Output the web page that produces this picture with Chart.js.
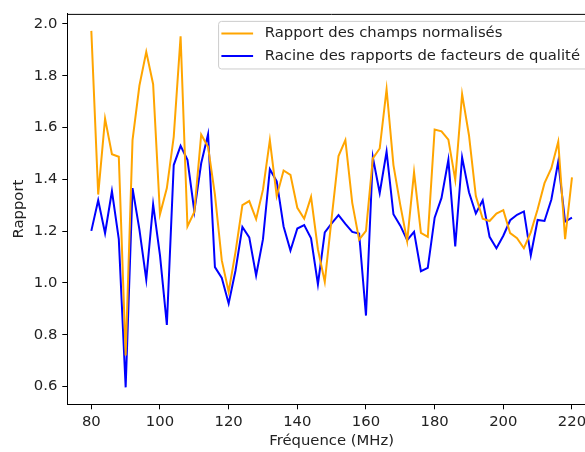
<!DOCTYPE html>
<html>
<head>
<meta charset="utf-8">
<script src="https://cdn.jsdelivr.net/npm/chart.js@4/dist/chart.umd.min.js"></script>
<style>
  html, body { margin: 0; padding: 0; background: #fff; overflow: hidden; }
  #wrap { width: 585px; height: 452px; overflow: hidden; }
</style>
</head>
<body>
<div id="wrap"><canvas id="chart" width="600" height="452"></canvas></div>
<script>
// Frequencies (MHz)
const freqs = [80, 82, 84, 86, 88, 90, 92, 94, 96, 98,
    100, 102, 104, 106, 108, 110, 112, 114, 116, 118,
    120, 122, 124, 126, 128, 130, 132, 134, 136, 138,
    140, 142, 144, 146, 148, 150, 152, 154, 156, 158,
    160, 162, 164, 166, 168, 170, 172, 174, 176, 178,
    180, 182, 184, 186, 188, 190, 192, 194, 196, 198,
    200, 202, 204, 206, 208, 210, 212, 214, 216, 218, 220];

// Rapport des champs normalisés
const champs = [1.973, 1.341, 1.634, 1.497, 1.487, 0.720, 1.551, 1.761, 1.892, 1.767,
    1.265, 1.366, 1.564, 1.952, 1.218, 1.274, 1.573, 1.525, 1.341, 1.087,
    0.966, 1.120, 1.300, 1.316, 1.246, 1.360, 1.551, 1.335, 1.434, 1.417,
    1.290, 1.248, 1.332, 1.130, 1.004, 1.250, 1.490, 1.551, 1.309, 1.167,
    1.201, 1.481, 1.519, 1.748, 1.455, 1.300, 1.162, 1.427, 1.193, 1.178,
    1.592, 1.585, 1.553, 1.398, 1.729, 1.570, 1.335, 1.248, 1.239, 1.268,
    1.281, 1.192, 1.173, 1.134, 1.195, 1.284, 1.385, 1.443, 1.545, 1.169, 1.407];

// Racine des rapports de facteurs de qualité
const facteurs = [1.201, 1.319, 1.192, 1.354, 1.169, 0.597, 1.366, 1.207, 1.013, 1.303,
    1.106, 0.838, 1.455, 1.529, 1.475, 1.277, 1.462, 1.574, 1.061, 1.019,
    0.921, 1.048, 1.216, 1.176, 1.029, 1.169, 1.439, 1.392, 1.218, 1.125,
    1.210, 1.223, 1.172, 0.995, 1.195, 1.230, 1.262, 1.228, 1.197, 1.191,
    0.874, 1.485, 1.347, 1.507, 1.265, 1.221, 1.165, 1.197, 1.045, 1.058,
    1.252, 1.328, 1.475, 1.141, 1.485, 1.350, 1.268, 1.319, 1.178, 1.134,
    1.182, 1.242, 1.263, 1.276, 1.106, 1.243, 1.239, 1.322, 1.468, 1.237, 1.252];

const xTicks = [80, 100, 120, 140, 160, 180, 200, 220];
const yTicks = [0.6, 0.8, 1.0, 1.2, 1.4, 1.6, 1.8, 2.0];

const font = { family: 'DejaVu Sans', size: 14.8 };
const textColor = '#222';

// matplotlib-like legend box in the upper right + top spine
const mplFrame = {
    id: 'mplFrame',
    afterDraw(chart) {
        const ctx = chart.ctx;
        const a = chart.chartArea;
        ctx.save();
        ctx.strokeStyle = '#000';
        ctx.lineWidth = 1;
        ctx.beginPath();
        ctx.moveTo(a.left, a.top + 0.5);
        ctx.lineTo(a.right, a.top + 0.5);
        ctx.stroke();

        ctx.font = font.size + 'px "' + font.family + '"';
        const sets = chart.data.datasets;
        const w = Math.max(...sets.map(d => ctx.measureText(d.label).width));
        const boxRight = a.right - 7;
        const textX = boxRight - 9 - w;
        const lineEnd = textX - 11.7;
        const lineStart = lineEnd - 31.7;
        const boxLeft = lineStart - 3.3;
        const boxTop = a.top + 7;
        const rowH = 22.4;
        const boxH = 12.6 * 2 + rowH * (sets.length - 1);

        ctx.beginPath();
        ctx.roundRect(boxLeft + 0.5, boxTop + 0.5, boxRight - boxLeft, boxH, 3);
        ctx.fillStyle = 'rgba(255,255,255,0.8)';
        ctx.fill();
        ctx.strokeStyle = '#cccccc';
        ctx.stroke();

        sets.forEach((d, i) => {
            const y = boxTop + 12.6 + i * rowH;
            ctx.beginPath();
            ctx.moveTo(lineStart, y);
            ctx.lineTo(lineEnd, y);
            ctx.strokeStyle = d.borderColor;
            ctx.lineWidth = 2;
            ctx.stroke();
            ctx.fillStyle = textColor;
            ctx.textBaseline = 'middle';
            ctx.textAlign = 'left';
            ctx.fillText(d.label, textX, y);
        });
        ctx.restore();
    }
};

new Chart(document.getElementById('chart'), {
    type: 'line',
    data: {
        datasets: [{
            label: 'Rapport des champs normalisés',
            data: freqs.map((f, i) => ({ x: f, y: champs[i] })),
            borderColor: '#FFA500',
            borderWidth: 2,
            pointRadius: 0,
            tension: 0,
            fill: false
        }, {
            label: 'Racine des rapports de facteurs de qualité',
            data: freqs.map((f, i) => ({ x: f, y: facteurs[i] })),
            borderColor: '#0000FF',
            borderWidth: 2,
            pointRadius: 0,
            tension: 0,
            fill: false
        }]
    },
    options: {
        responsive: false,
        animation: false,
        devicePixelRatio: 1,
        layout: { padding: { top: 9, right: 4, left: 0, bottom: 0 } },
        plugins: {
            legend: { display: false },
            tooltip: { enabled: false }
        },
        scales: {
            x: {
                type: 'linear',
                min: 73,
                max: 227,
                afterBuildTicks: s => { s.ticks = xTicks.map(v => ({ value: v })); },
                afterFit: s => { s.height = 47.7; },
                ticks: {
                    font: font, color: textColor, padding: 4,
                    maxRotation: 0, autoSkip: false,
                    callback: v => String(v)
                },
                grid: { drawOnChartArea: false, drawTicks: true, tickLength: 5, tickColor: '#000', tickWidth: 1 },
                border: { color: '#000', width: 1 },
                title: { display: true, text: 'Fréquence (MHz)', font: font, color: textColor, padding: { top: 0, bottom: 2 } }
            },
            y: {
                min: 0.5315,
                max: 2.0385,
                afterBuildTicks: s => { s.ticks = yTicks.map(v => ({ value: v })); },
                afterFit: s => { s.width = 67.3; },
                ticks: {
                    font: font, color: textColor, padding: 5,
                    callback: v => v.toFixed(1)
                },
                grid: { drawOnChartArea: false, drawTicks: true, tickLength: 5, tickColor: '#000', tickWidth: 1 },
                border: { color: '#000', width: 1 },
                title: { display: true, text: 'Rapport', font: font, color: textColor, padding: { top: 10, bottom: 0 } }
            }
        }
    },
    plugins: [mplFrame]
});
</script>
</body>
</html>
